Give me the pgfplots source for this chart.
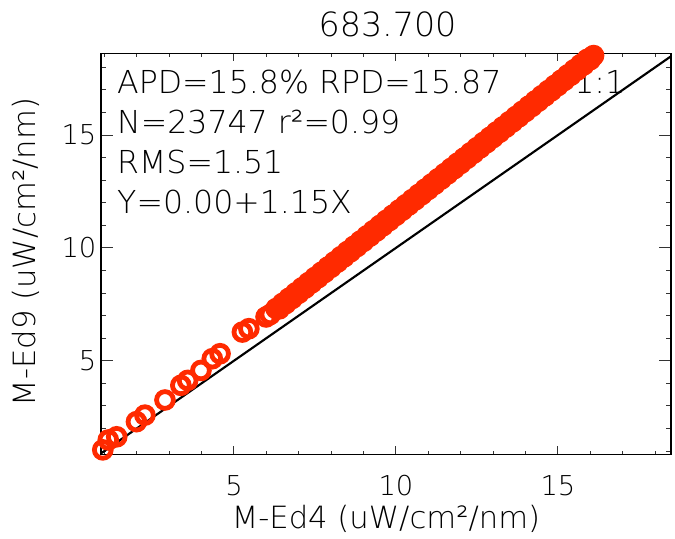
\documentclass[border=0pt]{standalone}
\usepackage{pgfplots}
\pgfplotsset{compat=1.18}
\usepackage{fontspec}
\setmainfont{DejaVu Sans ExtraLight}
\definecolor{ptred}{RGB}{255,42,0}
\newcommand{\tickf}{\fontsize{20.5}{24}\selectfont}
\newcommand{\annf}{\fontsize{23.7}{28}\selectfont}
\newcommand{\labf}{\fontsize{23}{27}\selectfont}
\newcommand{\titf}{\fontsize{25}{30}\selectfont}
\begin{document}
\begin{tikzpicture}
\begin{axis}[
  at={(0,0)}, anchor=south west,
  scale only axis, width=427.5pt, height=300.75pt,
  xmin=0.895, xmax=18.49, ymin=0.853, ymax=18.62,
  xtick={5,10,15}, ytick={5,10,15},
  minor xtick={1,2,...,18}, minor ytick={1,2,...,18},
  /pgf/number format/assume math mode=true,
  ticklabel style={font=\tickf},
  xticklabel style={anchor=base, yshift=-31pt},
  yticklabel style={anchor=east},
  xtick style={/pgfplots/major tick length=6pt, /pgfplots/minor tick length=2.8pt},
  ytick style={/pgfplots/major tick length=8.8pt, /pgfplots/minor tick length=3.75pt},
  tick style={black!80, line width=0.75pt},
  axis line style={line width=0.8pt},
  clip=true,
]
\addplot[only marks, mark=o, mark size=6.3pt, color=ptred, mark options={line width=3.6pt}] coordinates {
(0.95,1.05) (1.12,1.49) (1.38,1.63) (1.99,2.30) (2.25,2.59) (2.87,3.26) (3.36,3.91) (3.57,4.13)
(3.98,4.57) (4.33,5.09) (4.57,5.31) (5.26,6.27) (5.46,6.42) (5.99,6.94) (6.12,7.05)
(6.3,7.31) (6.4,7.30) (6.5,7.54) (6.6,7.53) (6.7,7.77) (6.8,7.76) (6.9,8.00) (7.0,7.99)
(7.1,8.23) (7.2,8.22) (7.3,8.46) (7.4,8.45) (7.5,8.69) (7.6,8.68) (7.7,8.92) (7.8,8.91)
(7.9,9.15) (8.0,9.14) (8.1,9.38) (8.2,9.37) (8.3,9.61) (8.4,9.60) (8.5,9.84) (8.6,9.83)
(8.7,10.07) (8.8,10.06) (8.9,10.30) (9.0,10.29) (9.1,10.53) (9.2,10.52) (9.3,10.76) (9.4,10.75)
(9.5,10.99) (9.6,10.98) (9.7,11.22) (9.8,11.21) (9.9,11.45) (10.0,11.44) (10.1,11.68) (10.2,11.67)
(10.3,11.91) (10.4,11.90) (10.5,12.14) (10.6,12.13) (10.7,12.37) (10.8,12.36) (10.9,12.60) (11.0,12.59)
(11.1,12.83) (11.2,12.82) (11.3,13.06) (11.4,13.05) (11.5,13.29) (11.6,13.28) (11.7,13.52) (11.8,13.51)
(11.9,13.75) (12.0,13.74) (12.1,13.98) (12.2,13.97) (12.3,14.21) (12.4,14.20) (12.5,14.44) (12.6,14.43)
(12.7,14.67) (12.8,14.66) (12.9,14.90) (13.0,14.89) (13.1,15.13) (13.2,15.12) (13.3,15.36) (13.4,15.35)
(13.5,15.59) (13.6,15.58) (13.7,15.82) (13.8,15.81) (13.9,16.05) (14.0,16.04) (14.1,16.28) (14.2,16.27)
(14.3,16.51) (14.4,16.50) (14.5,16.74) (14.6,16.73) (14.7,16.97) (14.8,16.96) (14.9,17.20) (15.0,17.19)
(15.1,17.43) (15.2,17.42) (15.3,17.66) (15.4,17.65) (15.5,17.89) (15.6,17.88) (15.7,18.12) (15.8,18.11)
(15.9,18.35) (16.0,18.34) (16.1,18.52)
};
\addplot[only marks, mark=o, mark size=6.3pt, color=ptred, mark options={line width=3.6pt}] coordinates {
(6.35,7.30) (6.45,7.42) (6.55,7.53) (6.65,7.65) (6.75,7.76) (6.85,7.88) (6.95,7.99) (7.05,8.11)
(7.15,8.22) (7.25,8.34) (7.35,8.45) (7.45,8.57) (7.55,8.68) (7.65,8.80) (7.75,8.91) (7.85,9.03)
(7.95,9.14) (8.05,9.26) (8.15,9.37) (8.25,9.49) (8.35,9.60) (8.45,9.72) (8.55,9.83) (8.65,9.95)
(8.75,10.06) (8.85,10.18) (8.95,10.29) (9.05,10.41) (9.15,10.52) (9.25,10.64) (9.35,10.75) (9.45,10.87)
(9.55,10.98) (9.65,11.10) (9.75,11.21) (9.85,11.33) (9.95,11.44) (10.05,11.56) (10.15,11.67) (10.25,11.79)
(10.35,11.90) (10.45,12.02) (10.55,12.13) (10.65,12.25) (10.75,12.36) (10.85,12.48) (10.95,12.59) (11.05,12.71)
(11.15,12.82) (11.25,12.94) (11.35,13.05) (11.45,13.17) (11.55,13.28) (11.65,13.40) (11.75,13.51) (11.85,13.63)
(11.95,13.74) (12.05,13.86) (12.15,13.97) (12.25,14.09) (12.35,14.20) (12.45,14.32) (12.55,14.43) (12.65,14.55)
(12.75,14.66) (12.85,14.78) (12.95,14.89) (13.05,15.01) (13.15,15.12) (13.25,15.24) (13.35,15.35) (13.45,15.47)
(13.55,15.58) (13.65,15.70) (13.75,15.81) (13.85,15.93) (13.95,16.04) (14.05,16.16) (14.15,16.27) (14.25,16.39)
(14.35,16.50) (14.45,16.62) (14.55,16.73) (14.65,16.85) (14.75,16.96) (14.85,17.08) (14.95,17.19) (15.05,17.31)
(15.15,17.42) (15.25,17.54) (15.35,17.65) (15.45,17.77) (15.55,17.88) (15.65,18.00) (15.75,18.11) (15.85,18.23)
(15.95,18.34) (16.05,18.46)
};
\addplot[black, line width=1.6pt] coordinates {(0,0) (20,20)};
\node[anchor=base west, font=\annf, inner sep=0pt] at (rel axis cs:0.028,0.900) {APD=15.8\% RPD=15.87};
\node[anchor=base west, font=\annf, inner sep=0pt] at (rel axis cs:0.830,0.900) {1:1};
\node[anchor=base west, font=\annf, inner sep=0pt] at (rel axis cs:0.028,0.800) {N=23747 r²=0.99};
\node[anchor=base west, font=\annf, inner sep=0pt] at (rel axis cs:0.028,0.701) {RMS=1.51};
\node[anchor=base west, font=\annf, inner sep=0pt] at (rel axis cs:0.028,0.601) {Y=0.00+1.15X};
\end{axis}
\node[anchor=base, font=\titf, inner sep=0pt] at (214.9pt,313pt) {683.700};
\node[anchor=base, font=\labf, inner sep=0pt] at (213.75pt,-55.3pt) {M-Ed4 (uW/cm²/nm)};
\node[anchor=center, rotate=90, font=\labf, inner sep=0pt] at (-56.6pt,151.7pt) {M-Ed9 (uW/cm²/nm)};
\pgfresetboundingbox
\path[use as bounding box] (-75.75pt,-62.8pt) rectangle (430.5pt,340.75pt);
\end{tikzpicture}
\end{document}
